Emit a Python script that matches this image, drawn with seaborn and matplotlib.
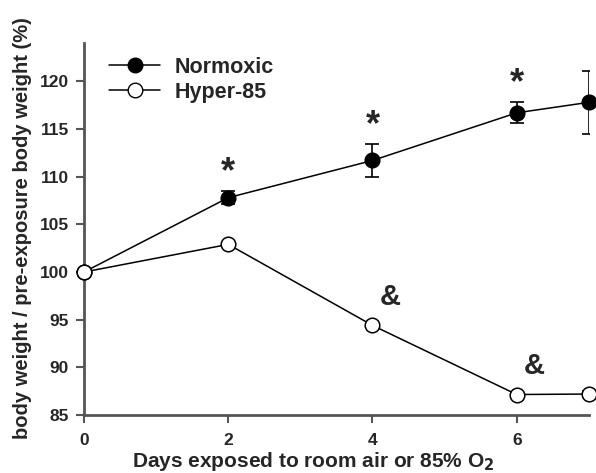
import matplotlib
matplotlib.use("Agg")
import matplotlib.pyplot as plt
import seaborn as sns
import pandas as pd
from matplotlib.lines import Line2D

days = [0, 2, 4, 6, 7]
normoxic = [100.0, 107.8, 111.7, 116.7, 117.8]
normoxic_err = [0.0, 0.7, 1.7, 1.1, 3.3]
hyper85 = [100.0, 102.9, 94.4, 87.15, 87.2]
hyper85_err = [0.0, 0.0, 0.0, 0.0, 0.3]
star_days = [2, 4, 6]
amp_days = [4, 6]

sns.set_style("ticks")
plt.rcParams['font.family'] = ['Liberation Sans', 'DejaVu Sans']
plt.rcParams['font.weight'] = 'bold'
plt.rcParams['mathtext.default'] = 'bf'

fig = plt.figure(figsize=(5.96, 4.73), dpi=100)
ax = fig.add_axes([0.141, 0.1226, 0.847, 0.786])

df = pd.DataFrame({
    "day": days * 2,
    "value": normoxic + hyper85,
    "group": ["Normoxic"] * len(days) + ["Hyper-85"] * len(days),
})

spine_c = "#555555"
for grp, vals, errs, fc in [("Normoxic", normoxic, normoxic_err, "black"),
                            ("Hyper-85", hyper85, hyper85_err, "white")]:
    ax.errorbar(days, vals, yerr=errs, fmt="none", ecolor="black",
                elinewidth=1.2, capsize=5, capthick=1.2, zorder=2)
    sns.lineplot(data=df[df.group == grp], x="day", y="value", ax=ax,
                 color="black", linewidth=1.1, marker="o", markersize=10.5,
                 markerfacecolor=fc, markeredgecolor="black",
                 markeredgewidth=1.1, zorder=3, legend=False, clip_on=False)

for d in star_days:
    i = days.index(d)
    ax.text(d, normoxic[i] + normoxic_err[i] + 0.1, "*", ha="center", va="bottom",
            fontsize=26, fontweight="bold")
for d in amp_days:
    i = days.index(d)
    ax.text(d + 0.24, hyper85[i] + 2.95, "&", ha="center", va="center",
            fontsize=21, fontweight="bold")

ax.set_xlim(0, 7)
ax.set_ylim(85, 124)
ax.set_xticks([0, 2, 4, 6])
ax.set_yticks([85, 90, 95, 100, 105, 110, 115, 120])
ax.tick_params(axis="both", direction="out", length=6, width=1.5,
               color=spine_c, labelsize=12.5)
ax.tick_params(axis="x", pad=7)
ax.tick_params(axis="y", pad=5)
for lab in ax.get_xticklabels() + ax.get_yticklabels():
    lab.set_fontweight("bold")
sns.despine(ax=ax)
for s in ["left", "bottom"]:
    ax.spines[s].set_color(spine_c)
    ax.spines[s].set_linewidth(2)

ax.set_xlabel("Days exposed to room air or 85% O$_2$", fontsize=15,
              fontweight="bold")
ax.set_ylabel("body weight / pre-exposure body weight (%)", fontsize=14.5,
              fontweight="bold")
ax.xaxis.set_label_coords(0.4535, -0.094)
ax.yaxis.set_label_coords(-0.103, 0.503)

handles = [
    Line2D([], [], color="black", linewidth=1.1, marker="o", markersize=10.5,
           markerfacecolor="black", markeredgecolor="black"),
    Line2D([], [], color="black", linewidth=1.1, marker="o", markersize=10.5,
           markerfacecolor="white", markeredgecolor="black"),
]
ax.legend(handles, ["Normoxic", "Hyper-85"], loc="upper left",
          bbox_to_anchor=(0.05, 0.964), frameon=False, handlelength=2.35,
          prop={"weight": "bold", "size": 15.5}, labelspacing=0.2,
          handletextpad=0.7, borderaxespad=0, borderpad=0)

fig.savefig("out.png", dpi=100)
